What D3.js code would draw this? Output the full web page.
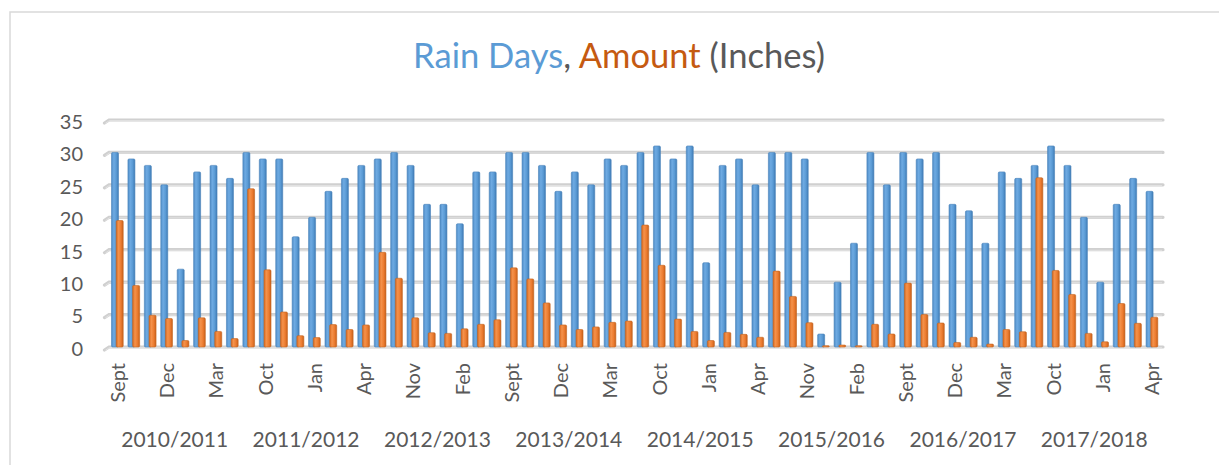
<!DOCTYPE html>
<html><head><meta charset="utf-8">
<script src="https://cdn.jsdelivr.net/npm/d3@7"></script>
<style>html,body{margin:0;padding:0;background:#fff;}svg{display:block;}</style>
</head><body>
<script>
const months = ["Sept","Oct","Nov","Dec","Jan","Feb","Mar","Apr"];
const seasons = ["2010/2011","2011/2012","2012/2013","2013/2014","2014/2015","2015/2016","2016/2017","2017/2018"];
const rainDays = [
  30,29,28,25,12,27,28,26,
  30,29,29,17,20,24,26,28,
  29,30,28,22,22,19,27,27,
  30,30,28,24,27,25,29,28,
  30,31,29,31,13,28,29,25,
  30,30,29,2,10,16,30,25,
  30,29,30,22,21,16,27,26,
  28,31,28,20,10,22,26,24];
const amount = [
  19.5,9.5,4.9,4.4,1.0,4.5,2.4,1.3,
  24.4,11.9,5.4,1.75,1.45,3.45,2.7,3.4,
  14.6,10.6,4.5,2.2,2.1,2.8,3.5,4.2,
  12.2,10.5,6.8,3.4,2.7,3.1,3.8,4.0,
  18.8,12.6,4.3,2.4,1.0,2.25,1.95,1.5,
  11.7,7.8,3.75,0.2,0.3,0.2,3.5,2.0,
  9.85,5.0,3.7,0.7,1.5,0.45,2.7,2.35,
  26.1,11.8,8.1,2.1,0.8,6.7,3.65,4.6];
const yTicks = [0,5,10,15,20,25,30,35];

const W = 1219, H = 465;
const FONT = "Lato, 'Open Sans', sans-serif";
const categories = [];
seasons.forEach((s, si) => months.forEach((m, mi) => categories.push({id: si*8+mi, season: s, month: m})));

const svg = d3.select("body").append("svg").attr("width", W).attr("height", H);
const defs = svg.append("defs");
function grad(id, stops){
  const g = defs.append("linearGradient").attr("id", id).attr("x1","0").attr("x2","1").attr("y1","0").attr("y2","0");
  stops.forEach((c,i)=>g.append("stop").attr("offset", (i/(stops.length-1))).attr("stop-color", c));
}
grad("gBlue", ["#4f8cc6","#6eaae2","#5b9bd5","#3f7bb5"]);
grad("gOrange", ["#d9691f","#f4924b","#ed7d31","#c9601a"]);

// frame
svg.append("path").attr("d", `M10,${H} L10,12 L${W},12`).attr("fill","none").attr("stroke","#d9d9d9").attr("stroke-width",1.5);

const x = d3.scaleBand().domain(categories.map(d=>d.id)).range([109, 1160]).padding(0);
const y = d3.scaleLinear().domain([0,35]).range([347, 120]);

// gridlines (3D look)
const grid = svg.append("g");
yTicks.forEach(v => {
  const yy = y(v);
  grid.append("path").attr("d", `M104.5,${yy+3} L109,${yy} L1163,${yy}`)
    .attr("fill","none").attr("stroke","#d0d0d0").attr("stroke-width",3.2).attr("stroke-linecap","round");
  grid.append("path").attr("d", `M105.5,${yy+3.2} L109.5,${yy+0.6} L1162,${yy+0.6}`)
    .attr("fill","none").attr("stroke","#e6e6e6").attr("stroke-width",0.8);
});

// y axis labels
const yAxis = d3.axisLeft(y).tickValues(yTicks).tickSize(0).tickPadding(0);
const gy = svg.append("g").attr("transform","translate(83,2)").call(yAxis);
gy.select(".domain").remove();
gy.selectAll("text").attr("font-family", FONT).attr("font-size", 20).attr("fill","#595959").attr("x",0);

const bw = 7;
const cx = d => x(d) + x.bandwidth()/2;
svg.append("g").selectAll("rect").data(categories).join("rect")
  .attr("x", d => cx(d.id) - 5.7).attr("width", bw)
  .attr("y", d => y(rainDays[d.id])).attr("height", d => y(0) - y(rainDays[d.id]))
  .attr("rx", 1.2).attr("fill","url(#gBlue)").attr("stroke","#4a83ba").attr("stroke-width",0.6);
svg.append("g").selectAll("rect").data(categories).join("rect")
  .attr("x", d => cx(d.id) - 1).attr("width", bw)
  .attr("y", d => y(amount[d.id])).attr("height", d => Math.max(0.8, y(0) - y(amount[d.id])))
  .attr("rx", 1.2).attr("fill","url(#gOrange)").attr("stroke","#c4641f").attr("stroke-width",0.6);

// month labels
const xAxis = d3.axisBottom(x).tickValues(categories.filter(d=>d.id%3===0).map(d=>d.id))
  .tickFormat(id => categories[id].month).tickSize(0);
const gx = svg.append("g").call(xAxis);
gx.select(".domain").remove();
gx.selectAll(".tick").attr("transform", d => `translate(${cx(d)},363)`);
gx.selectAll("text").attr("font-family", FONT).attr("font-size", 20).attr("fill","#595959")
  .attr("dy", null).attr("y", 0).attr("x", 0)
  .attr("transform", "translate(7.5,0) rotate(-90)").attr("text-anchor","end");

// season labels
svg.append("g").selectAll("text").data(seasons).join("text")
  .attr("x", (s,i) => x(i*8) + x.bandwidth()*4).attr("y", 447)
  .attr("text-anchor","middle").attr("font-family", FONT).attr("font-size", 21).attr("fill","#595959")
  .text(s => s);

// title
const title = svg.append("text").attr("x", 619).attr("y", 68).attr("text-anchor","middle")
  .attr("font-family", FONT).attr("font-size", 30);
title.append("tspan").attr("fill","#5b9bd5").text("Rain Days");
title.append("tspan").attr("fill","#595959").text(", ");
title.append("tspan").attr("fill","#c55a11").text("Amount");
title.append("tspan").attr("fill","#595959").text(" (Inches)");
const tw = title.node().getComputedTextLength();
title.attr("font-size", 30 * 412 / tw);
</script>
</body></html>
